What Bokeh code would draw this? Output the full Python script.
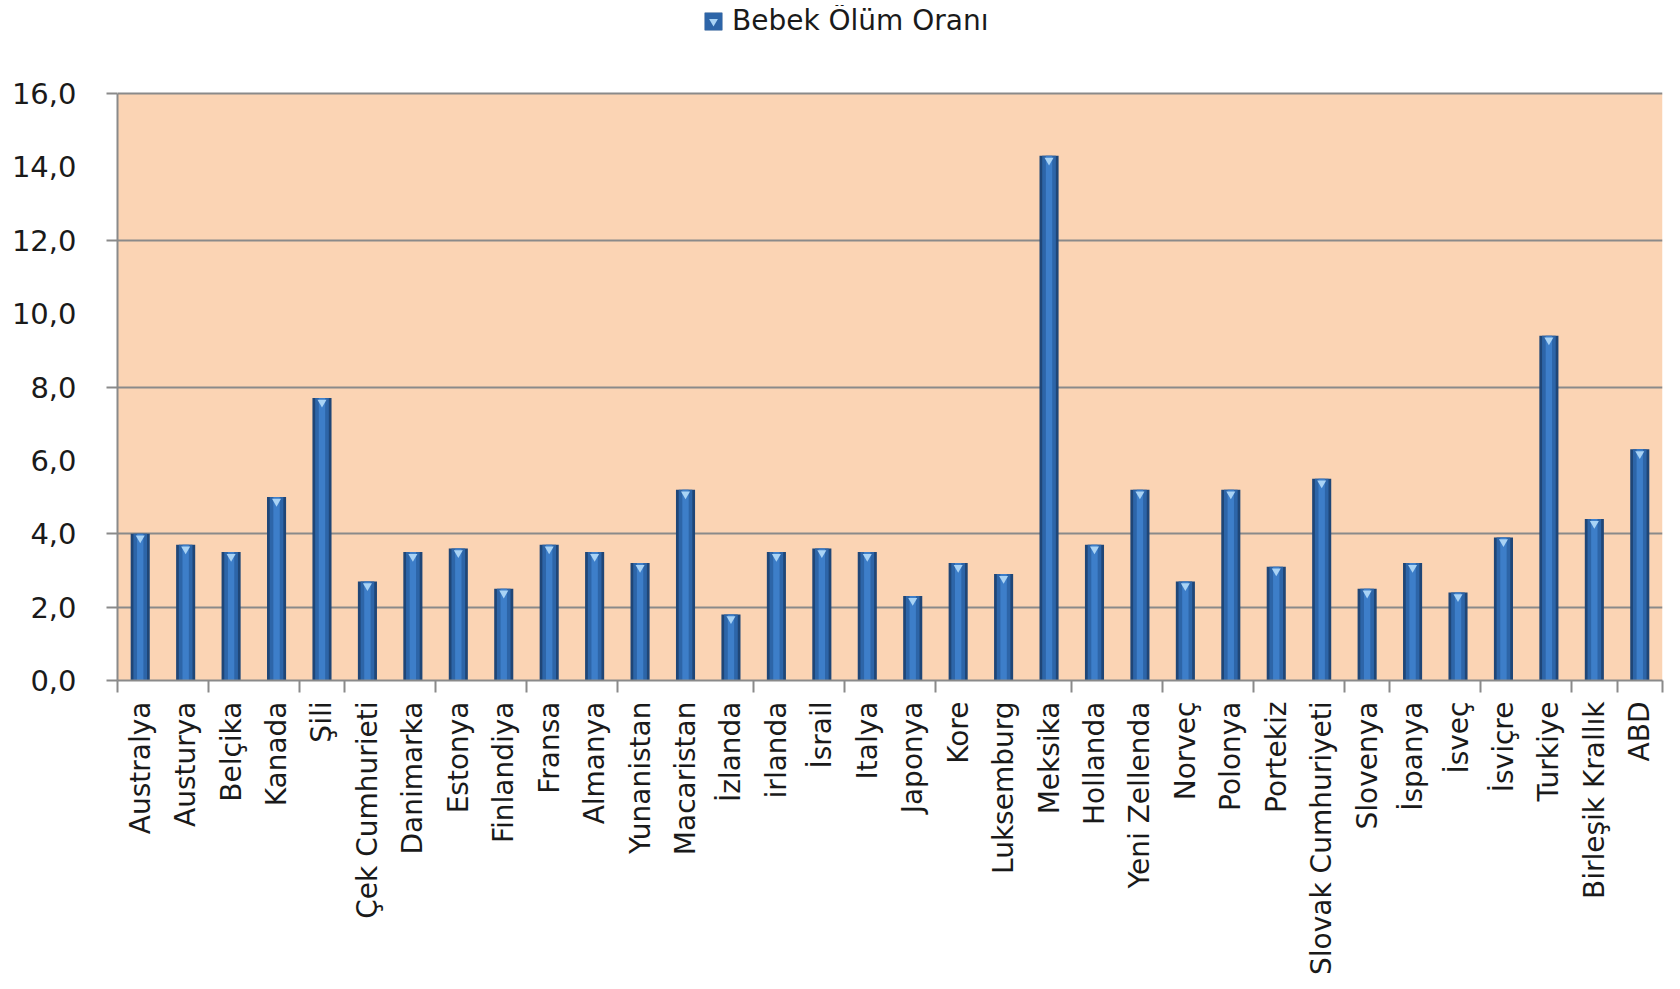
import math
from bokeh.plotting import figure
from bokeh.models import (Range1d, FixedTicker, Legend, LegendItem, ColumnDataSource,
                          BoxAnnotation)
from bokeh.embed import file_html
from bokeh.resources import INLINE

countries = ["Australya", "Austurya", "Belçika", "Kanada", "Şili", "Çek Cumhurieti",
             "Danimarka", "Estonya", "Finlandiya", "Fransa", "Almanya", "Yunanistan",
             "Macaristan", "İzlanda", "irlanda", "İsrail", "Italya", "Japonya", "Kore",
             "Luksemburg", "Meksika", "Hollanda", "Yeni Zellenda", "Norveç", "Polonya",
             "Portekiz", "Slovak Cumhuriyeti", "Slovenya", "İspanya", "İsveç", "İsviçre",
             "Turkiye", "Birleşik Krallık", "ABD"]
rates = [4.0, 3.7, 3.5, 5.0, 7.7, 2.7, 3.5, 3.6, 2.5, 3.7, 3.5, 3.2, 5.2, 1.8, 3.5,
         3.6, 3.5, 2.3, 3.2, 2.9, 14.3, 3.7, 5.2, 2.7, 5.2, 3.1, 5.5, 2.5, 3.2, 2.4,
         3.9, 9.4, 4.4, 6.3]
y_ticks = [0, 2, 4, 6, 8, 10, 12, 14, 16]
y_tick_labels = ["0,0", "2,0", "4,0", "6,0", "8,0", "10,0", "12,0", "14,0", "16,0"]
grid_values = [0, 2, 4, 8, 12, 16]
x_tick_boundaries = [0, 2, 4, 5, 7, 9, 11, 14, 16, 18, 21, 23, 25, 27, 28, 30, 32, 33, 34]
legend_label = "Bebek Ölüm Oranı"
y_max = 16

FONT = "DejaVu Sans"
GRID = "#8a8a8a"

# pixel layout: frame spans y 5..680, value axis 0..16 spans y 93..680
FRAME_TOP, AXIS_TOP, AXIS_BOTTOM = 5, 93, 680
y_end = y_max * (AXIS_BOTTOM - FRAME_TOP) / (AXIS_BOTTOM - AXIS_TOP)

x = list(range(len(countries)))
src = ColumnDataSource(dict(x=x, top=rates, tri=[v - 0.12 for v in rates]))

p = figure(width=1680, height=989,
           x_range=Range1d(-0.5, len(countries) - 0.5), y_range=Range1d(0, y_end),
           output_backend="svg", toolbar_location=None,
           min_border_left=117, min_border_right=18, min_border_top=FRAME_TOP,
           min_border_bottom=989 - AXIS_BOTTOM)
p.background_fill_color = "white"
p.border_fill_color = "white"
p.outline_line_color = None

p.add_layout(BoxAnnotation(bottom=0, top=y_max, fill_color="#FBD4B4", fill_alpha=1,
                           line_color=None, level="image"))

p.xgrid.visible = False
p.ygrid.ticker = FixedTicker(ticks=grid_values)
p.ygrid.grid_line_color = GRID
p.ygrid.grid_line_width = 2

r_outer = p.vbar(x="x", top="top", width=0.42, source=src, fill_color="#1f4677", line_color=None)
r_mid = p.vbar(x="x", top="top", width=0.30, source=src, fill_color="#2d65a8", line_color=None)
r_inner = p.vbar(x="x", top="top", width=0.14, source=src, fill_color="#3d7ec9", line_color=None)
r_tri = p.scatter(x="x", y="tri", source=src, marker="inverted_triangle", size=9,
                  fill_color="#a9d3f5", line_color=None)

# y axis
p.yaxis.bounds = (0, y_max)
p.yaxis.ticker = FixedTicker(ticks=y_ticks, minor_ticks=grid_values)
p.yaxis.major_label_overrides = {t: l for t, l in zip(y_ticks, y_tick_labels)}
p.yaxis.major_tick_out = 0
p.yaxis.major_tick_in = 0
p.yaxis.minor_tick_out = 11
p.yaxis.minor_tick_in = 0
p.yaxis.major_label_standoff = 30
p.yaxis.major_label_text_font = FONT
p.yaxis.major_label_text_font_size = "29px"
p.yaxis.major_label_text_color = "#1a1a1a"
p.yaxis.axis_line_color = GRID
p.yaxis.axis_line_width = 2
p.yaxis.minor_tick_line_color = GRID
p.yaxis.minor_tick_line_width = 2

# x axis
p.xaxis.ticker = FixedTicker(ticks=x, minor_ticks=[b - 0.5 for b in x_tick_boundaries])
p.xaxis.major_label_overrides = {i: c for i, c in zip(x, countries)}
p.xaxis.major_label_orientation = math.pi / 2
p.xaxis.major_tick_out = 0
p.xaxis.major_tick_in = 0
p.xaxis.minor_tick_out = 12
p.xaxis.minor_tick_in = 0
p.xaxis.major_label_standoff = 9
p.xaxis.major_label_text_font = FONT
p.xaxis.major_label_text_font_size = "28px"
p.xaxis.major_label_text_color = "#1a1a1a"
p.xaxis.axis_line_color = GRID
p.xaxis.axis_line_width = 2
p.xaxis.minor_tick_line_color = GRID
p.xaxis.minor_tick_line_width = 2

legend = Legend(items=[LegendItem(label=legend_label, renderers=[r_outer, r_mid, r_tri])],
                location=(585, 643), glyph_width=22, glyph_height=22,
                label_text_font=FONT, label_text_font_size="28px", label_text_color="#1a1a1a",
                label_standoff=8, padding=0, margin=0, border_line_color=None,
                background_fill_alpha=0)
p.add_layout(legend)

open("out.html", "w").write(file_html(p, INLINE))
